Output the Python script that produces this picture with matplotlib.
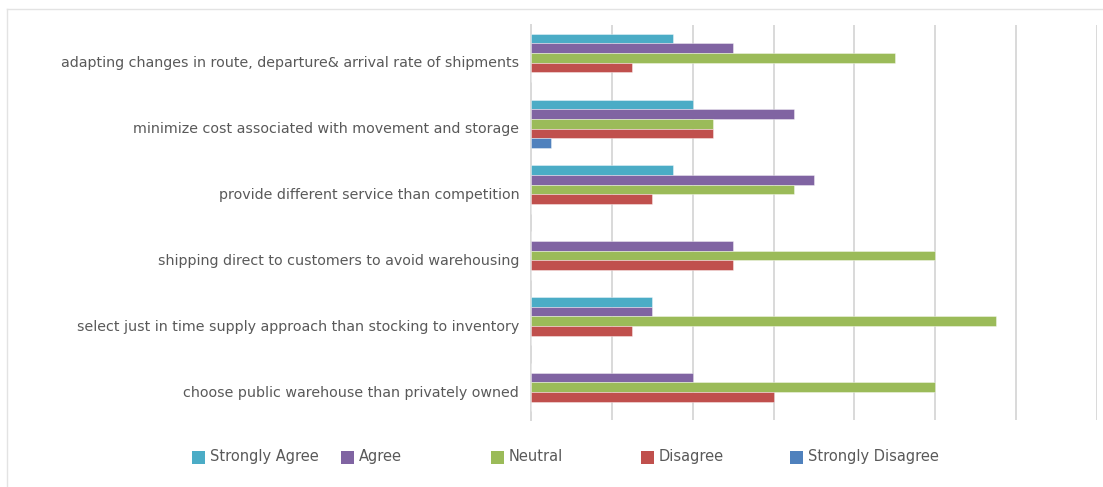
import matplotlib
matplotlib.use("Agg")
import matplotlib.pyplot as plt
import matplotlib.transforms as mtransforms
from matplotlib.patches import Rectangle
from matplotlib.lines import Line2D

# survey answers per logistics strategy (top to bottom)
categories = [
    "adapting changes in route, departure& arrival rate of shipments",
    "minimize cost associated with movement and storage",
    "provide different service than competition",
    "shipping direct to customers to avoid warehousing",
    "select just in time supply approach than stocking to inventory",
    "choose public warehouse than privately owned",
]
series_names = ["Strongly Agree", "Agree", "Neutral", "Disagree", "Strongly Disagree"]
strongly_agree = [7, 8, 7, 0, 6, 0]
agree = [10, 13, 14, 10, 6, 8]
neutral = [18, 9, 13, 20, 23, 20]
disagree = [5, 9, 6, 10, 5, 12]
strongly_disagree = [0, 1, 0, 0, 0, 0]
series_values = [strongly_agree, agree, neutral, disagree, strongly_disagree]
colors = ["#4BACC6", "#8064A2", "#9BBB59", "#C0504D", "#4F81BD"]

text_color = "#595959"
grid_color = "#D9D9D9"

fig = plt.figure(figsize=(11.03, 4.87), dpi=100)
ax = fig.add_axes([531 / 1103, 1 - 420 / 487, (1097 - 531) / 1103, (420 - 25) / 487])

bar_h = 0.147
for j, (name, vals, col) in enumerate(zip(series_names, series_values, colors)):
    ys = [i + (j - 2) * bar_h for i in range(len(categories))]
    ax.barh(ys, vals, height=bar_h, color=col, edgecolor=(1, 1, 1, 0.45),
            linewidth=0.6, label=name, zorder=3)

ax.set_xlim(0, 28)
ax.set_ylim(len(categories) - 0.5, -0.5)
ax.set_xticks(range(0, 29, 4))
ax.set_xticklabels([])
ax.tick_params(axis="x", length=0)
ax.grid(axis="x", color=grid_color, linewidth=1.4, zorder=0)
for s in ["top", "right", "bottom"]:
    ax.spines[s].set_visible(False)
ax.spines["left"].set_color(grid_color)
ax.spines["left"].set_linewidth(1.4)

ax.set_yticks(range(len(categories)))
ax.set_yticklabels(categories, fontsize=10.3, color=text_color)
ax.tick_params(axis="y", length=0, pad=8.5)
shift = mtransforms.ScaledTranslation(0, -4 / 100, fig.dpi_scale_trans)
for lbl in ax.get_yticklabels():
    lbl.set_transform(lbl.get_transform() + shift)

# legend entries laid out along the bottom
legend_x = [192, 341, 491, 641, 790]
for x, name, col in zip(legend_x, series_names, colors):
    fig.patches.append(Rectangle((x / 1103, 1 - 463.5 / 487), 13 / 1103, 13 / 487,
                                 transform=fig.transFigure, facecolor=col,
                                 edgecolor="none"))
    fig.text((x + 18) / 1103, 1 - 456.5 / 487, name, fontsize=10.5,
             color=text_color, va="center", ha="left")

# chart border
fig.lines.append(Line2D([7 / 1103, 7 / 1103], [0, 1 - 9 / 487],
                        transform=fig.transFigure, color="#E3E3E3", linewidth=1))
fig.lines.append(Line2D([7 / 1103, 1], [1 - 9 / 487, 1 - 9 / 487],
                        transform=fig.transFigure, color="#E3E3E3", linewidth=1))

fig.savefig("out.png", dpi=100)
